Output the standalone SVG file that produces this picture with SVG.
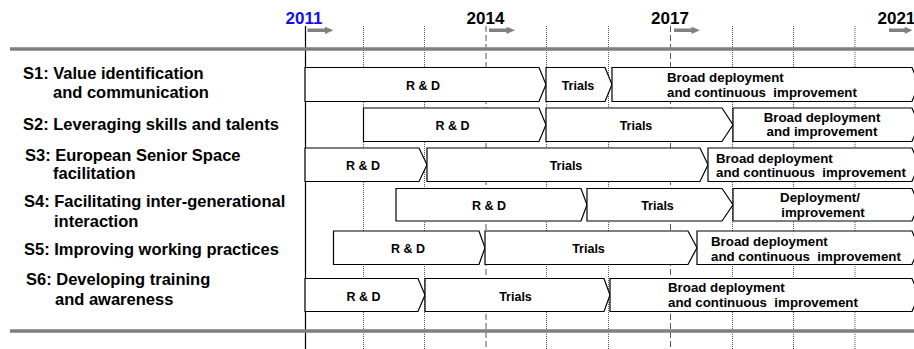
<svg xmlns="http://www.w3.org/2000/svg" width="914" height="349" viewBox="0 0 914 349">
<style>
.lbl{font-family:"Liberation Sans",Arial,Helvetica,sans-serif;font-weight:bold;font-size:16.5px;fill:#000}
.yr{font-family:"Liberation Sans",Arial,Helvetica,sans-serif;font-weight:bold;font-size:17px;fill:#000}
.bt{font-family:"Liberation Sans",Arial,Helvetica,sans-serif;font-weight:bold;font-size:12.5px;fill:#000;text-anchor:middle}
.dt{font-family:"Liberation Sans",Arial,Helvetica,sans-serif;font-weight:bold;font-size:13.3px;fill:#000}
.c{text-anchor:middle}
.chev{fill:#fff;stroke:#000;stroke-width:1.2}
.dot{stroke:#555;stroke-width:1;stroke-dasharray:1 1;fill:none}
.dash{stroke:#555;stroke-width:1;stroke-dasharray:6 3;fill:none}
.rule{stroke:#7f7f7f;stroke-width:3.5;fill:none}
.yarr{fill:#808080}
</style>
<defs>
<path id="yarrow" d="M0,-1.7 H17.5 V-3.6 L26,0 L17.5,3.6 V1.7 H0 Z"/>
</defs>
<rect width="914" height="349" fill="#fff"/>

<g id="grid">
<line class="dot" x1="363.5" y1="26" x2="363.5" y2="349"/>
<line class="dot" x1="424.5" y1="26" x2="424.5" y2="349"/>
<line class="dash" x1="486" y1="26" x2="486" y2="349"/>
<line class="dot" x1="546.5" y1="26" x2="546.5" y2="349"/>
<line class="dot" x1="608.5" y1="26" x2="608.5" y2="349"/>
<line class="dash" x1="670.5" y1="26" x2="670.5" y2="349"/>
<line class="dot" x1="732.5" y1="26" x2="732.5" y2="349"/>
<line class="dot" x1="793.5" y1="26" x2="793.5" y2="349"/>
<line class="dot" x1="855" y1="26" x2="855" y2="349"/>
<line x1="305.5" y1="26" x2="305.5" y2="349" stroke="#000" stroke-width="1.2"/>
<line class="rule" x1="10" y1="49" x2="914" y2="49"/>
<line class="rule" x1="10" y1="331" x2="914" y2="331"/>
</g>

<g id="axis">
<text class="yr c" x="304" y="24" style="fill:#1010ee">2011</text>
<text class="yr c" x="485.5" y="24">2014</text>
<text class="yr c" x="670" y="24">2017</text>
<text class="yr" x="877.5" y="24">2021</text>
<use href="#yarrow" class="yarr" transform="translate(307.5,30.3)"/>
<use href="#yarrow" class="yarr" transform="translate(489,30.3)"/>
<use href="#yarrow" class="yarr" transform="translate(674,30.3)"/>
<use href="#yarrow" class="yarr" transform="translate(889,30.3) scale(0.9,1)"/>
</g>

<g id="labels">
<text class="lbl" x="23" y="79">S1: Value identification</text>
<text class="lbl" x="53" y="98">and communication</text>
<text class="lbl" x="23" y="129.5">S2: Leveraging skills and talents</text>
<text class="lbl" x="25" y="160.5">S3: European Senior Space</text>
<text class="lbl" x="53" y="179">facilitation</text>
<text class="lbl" x="24" y="206.5">S4: Facilitating inter-generational</text>
<text class="lbl" x="54" y="226.5">interaction</text>
<text class="lbl" x="24" y="255">S5: Improving working practices</text>
<text class="lbl" x="26" y="284.5">S6: Developing training</text>
<text class="lbl" x="55" y="305">and awareness</text>
</g>

<g id="s1">
<polygon class="chev" points="305,67.5 539,67.5 546,84.5 539,101.5 305,101.5"/>
<text class="bt" x="423" y="90">R &amp; D</text>
<polygon class="chev" points="546,67.5 605,67.5 612,84.5 605,101.5 546,101.5"/>
<text class="bt" x="578" y="90">Trials</text>
<polygon class="chev" points="612,67.5 912,67.5 919,84.5 912,101.5 612,101.5"/>
<text class="dt" x="667" y="82">Broad deployment</text>
<text class="dt" x="667" y="96.7">and continuous&#160; improvement</text>
</g>

<g id="s2">
<polygon class="chev" points="363.5,108 539,108 546,124.75 539,141.5 363.5,141.5"/>
<text class="bt" x="452.5" y="130.3">R &amp; D</text>
<polygon class="chev" points="546,108 722,108 733,124.75 722,141.5 546,141.5"/>
<text class="bt" x="636" y="130.3">Trials</text>
<polygon class="chev" points="733,108 912,108 919,124.75 912,141.5 733,141.5"/>
<text class="dt c" x="822" y="121.7">Broad deployment</text>
<text class="dt c" x="822" y="136">and improvement</text>
</g>

<g id="s3">
<polygon class="chev" points="305,148 419,148 427,164.75 419,181.5 305,181.5"/>
<text class="bt" x="363" y="170.3">R &amp; D</text>
<polygon class="chev" points="427,148 700,148 708,164.75 700,181.5 427,181.5"/>
<text class="bt" x="566" y="170.3">Trials</text>
<polygon class="chev" points="708,148 912,148 919,164.75 912,181.5 708,181.5"/>
<text class="dt" x="716" y="162.7">Broad deployment</text>
<text class="dt" x="716" y="177.3">and continuous&#160; improvement</text>
</g>

<g id="s4">
<polygon class="chev" points="396,188.5 581,188.5 587,204.75 581,221 396,221"/>
<text class="bt" x="489" y="210.3">R &amp; D</text>
<polygon class="chev" points="587,188.5 722,188.5 733,204.75 722,221 587,221"/>
<text class="bt" x="657.5" y="210.3">Trials</text>
<polygon class="chev" points="733,188.5 912,188.5 919,204.75 912,221 733,221"/>
<text class="dt c" x="820" y="202">Deployment/</text>
<text class="dt c" x="823" y="217.3">improvement</text>
</g>

<g id="s5">
<polygon class="chev" points="333.5,231 479,231 485,247.75 479,264.5 333.5,264.5"/>
<text class="bt" x="408" y="253.3">R &amp; D</text>
<polygon class="chev" points="485,231 688,231 697,247.75 688,264.5 485,264.5"/>
<text class="bt" x="588.5" y="253.3">Trials</text>
<polygon class="chev" points="697,231 912,231 919,247.75 912,264.5 697,264.5"/>
<text class="dt" x="711" y="246">Broad deployment</text>
<text class="dt" x="711" y="261.3">and continuous&#160; improvement</text>
</g>

<g id="s6">
<polygon class="chev" points="305,278.5 418,278.5 425,295 418,311.5 305,311.5"/>
<text class="bt" x="363.5" y="300.5">R &amp; D</text>
<polygon class="chev" points="425,278.5 604,278.5 610,295 604,311.5 425,311.5"/>
<text class="bt" x="515.5" y="300.5">Trials</text>
<polygon class="chev" points="610,278.5 912,278.5 919,295 912,311.5 610,311.5"/>
<text class="dt" x="668" y="291.7">Broad deployment</text>
<text class="dt" x="668" y="306.7">and continuous&#160; improvement</text>
</g>
</svg>
